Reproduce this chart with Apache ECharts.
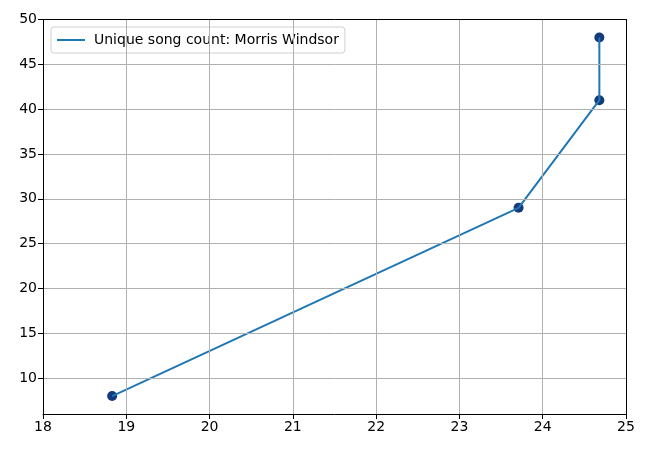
<!DOCTYPE html>
<html>
<head>
<meta charset="utf-8">
<script src="https://cdn.jsdelivr.net/npm/echarts@6/dist/echarts.min.js"></script>
<style>
  html, body { margin: 0; padding: 0; background: #fff; }
  #chart { width: 650px; height: 450px; }
</style>
</head>
<body>
<div id="chart"></div>
<script>
const seriesName = 'Unique song count: Morris Windsor'
const xValues = [18.83, 23.71, 24.68, 24.68]
const yValues = [8, 29, 41, 48]
const yTicks = [10, 15, 20, 25, 30, 35, 40, 45, 50]

const points = xValues.map((x, i) => [x, yValues[i]])
const font = 'DejaVu Sans'

const chart = echarts.init(document.getElementById('chart'), null, { renderer: 'canvas' })

// plain black frame for the top and right edges
const frameAxis = {
  type: 'value',
  axisLine: { show: true, onZero: false, lineStyle: { color: '#000' } },
  axisTick: { show: false },
  axisLabel: { show: false },
  splitLine: { show: false },
  z: 10,
}

chart.setOption({
  animation: false,
  textStyle: { fontFamily: font },
  grid: { left: 43, right: 24, top: 19.5, bottom: 36 },
  legend: {
    left: 51, top: 27,
    data: [{ name: seriesName, icon: 'rect' }],
    itemWidth: 28, itemHeight: 2, itemGap: 10,
    padding: [6, 6, 6, 6],
    borderColor: '#d0d0d0', borderWidth: 1, borderRadius: 3,
    backgroundColor: 'rgba(255,255,255,0.8)',
    textStyle: { fontFamily: font, fontSize: 14, color: '#000', padding: [0, 0, 0, 4] },
  },
  xAxis: [
    {
      type: 'value', min: 18, max: 25, interval: 1,
      axisLine: { show: true, onZero: false, lineStyle: { color: '#000' } },
      axisTick: { show: true, length: 5, lineStyle: { color: '#000' } },
      axisLabel: { color: '#000', fontSize: 14, fontFamily: font, margin: 6 },
      splitLine: { show: true, lineStyle: { color: '#b0b0b0', width: 1 } },
      z: 10,
    },
    { ...frameAxis, position: 'top', min: 18, max: 25 },
  ],
  yAxis: [
    {
      type: 'value', min: 6, max: 50,
      axisLine: { show: true, onZero: false, lineStyle: { color: '#000' } },
      axisTick: { show: true, length: 5, customValues: yTicks, lineStyle: { color: '#000' } },
      axisLabel: { color: '#000', fontSize: 14, fontFamily: font, margin: 6, customValues: yTicks },
      splitLine: { show: true, lineStyle: { color: '#b0b0b0', width: 1 } },
      z: 10,
    },
    { ...frameAxis, position: 'right', min: 6, max: 50 },
  ],
  series: [
    {
      name: seriesName,
      type: 'line',
      data: points,
      showSymbol: false,
      lineStyle: { color: '#1f77b4', width: 2 },
      itemStyle: { color: '#1f77b4' },
    },
    {
      name: 'points',
      type: 'scatter',
      data: points,
      symbolSize: 10,
      itemStyle: { color: '#143a7a', opacity: 1 },
    },
  ],
})
</script>
</body>
</html>
